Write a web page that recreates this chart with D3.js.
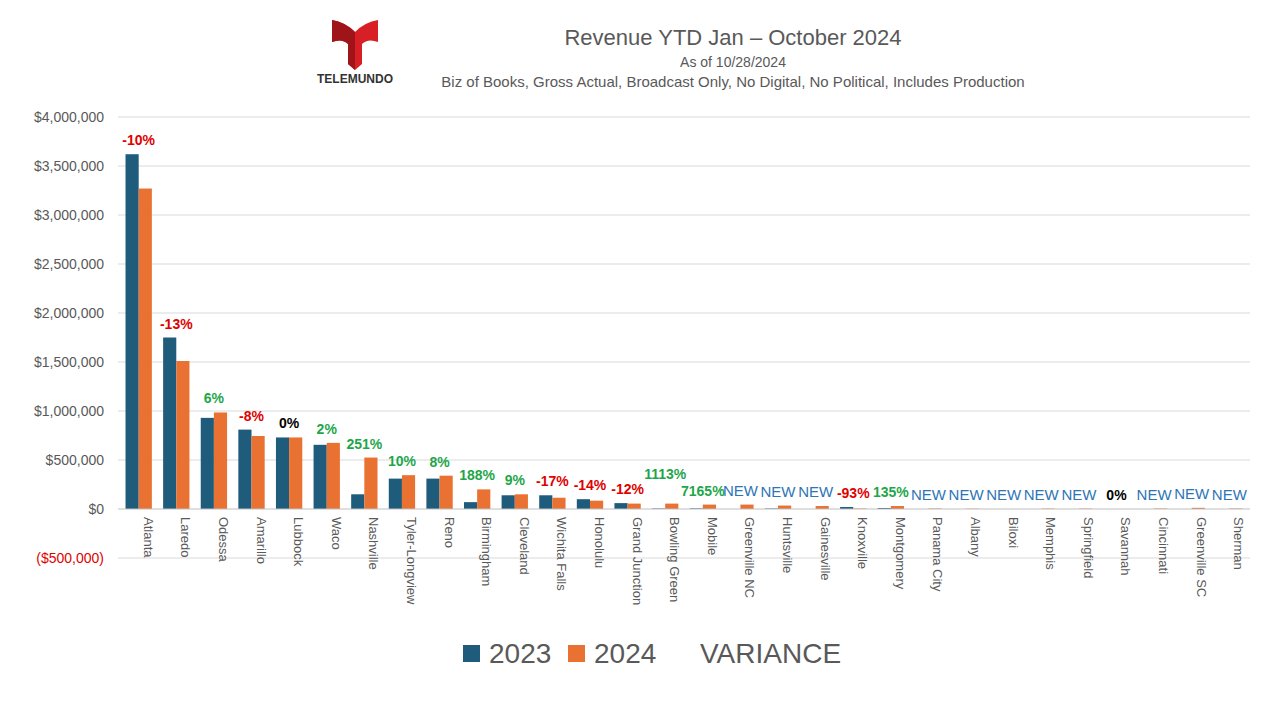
<!DOCTYPE html>
<html><head><meta charset="utf-8">
<script src="https://cdn.jsdelivr.net/npm/d3@7"></script>
<style>body{margin:0;background:#fff}text{font-family:"Liberation Sans",Arial,sans-serif}</style>
</head><body><svg id="c" width="1280" height="720"></svg>
<script>
const markets = ["Atlanta","Laredo","Odessa","Amarillo","Lubbock","Waco","Nashville","Tyler-Longview","Reno","Birmingham","Cleveland","Wichita Falls","Honolulu","Grand Junction","Bowling Green","Mobile","Greenville NC","Huntsville","Gainesville","Knoxville","Montgomery","Panama City","Albany","Biloxi","Memphis","Springfield","Savannah","Cincinnati","Greenville SC","Sherman"];
const rev2023 = [3620000,1750000,930000,810000,730000,655000,150000,310000,310000,70000,140000,140000,100000,60000,5000,6000,0,5000,0,20000,10000,0,0,0,0,0,0,0,0,0];
const rev2024 = [3270000,1510000,985000,745000,730000,675000,525000,345000,340000,200000,150000,115000,85000,55000,55000,45000,45000,35000,30000,5000,30000,5000,3000,0,4000,4000,0,5000,12000,5000];
const variance = ["-10%","-13%","6%","-8%","0%","2%","251%","10%","8%","188%","9%","-17%","-14%","-12%","1113%","7165%","NEW","NEW","NEW","-93%","135%","NEW","NEW","NEW","NEW","NEW","0%","NEW","NEW","NEW"];
const yTicks = [-500000,0,500000,1000000,1500000,2000000,2500000,3000000,3500000,4000000];

const svg = d3.select("#c");
const x = d3.scaleBand().domain(markets).range([118,1250]).paddingInner(0.3).paddingOuter(0.2);
const y = d3.scaleLinear().domain([-500000,4000000]).range([558,117]);
const fmt = d => d < 0 ? "($" + d3.format(",")(-d) + ")" : (d === 0 ? "$0" : "$" + d3.format(",")(d));

svg.append("g").selectAll("line").data(yTicks.filter(d => d !== 0)).join("line")
  .attr("x1",118).attr("x2",1250).attr("y1",d=>y(d)).attr("y2",d=>y(d)).attr("stroke","#d9d9d9");
svg.append("g").selectAll("text").data(yTicks).join("text")
  .attr("x",104).attr("y",d=>y(d)+5).attr("text-anchor","end").attr("font-size",14)
  .attr("fill",d=>d<0?"#e00000":"#595959").text(fmt);

const bw = x.bandwidth()/2;
svg.append("g").selectAll("rect").data(markets).join("rect")
  .attr("x",d=>x(d)).attr("width",bw).attr("y",(d,i)=>y(rev2023[i])).attr("height",(d,i)=>y(0)-y(rev2023[i])).attr("fill","#1f5b7a");
svg.append("g").selectAll("rect").data(markets).join("rect")
  .attr("x",d=>x(d)+bw).attr("width",bw).attr("y",(d,i)=>y(rev2024[i])).attr("height",(d,i)=>y(0)-y(rev2024[i])).attr("fill","#e97132");
svg.append("line").attr("x1",118).attr("x2",1250).attr("y1",y(0)).attr("y2",y(0)).attr("stroke","#bfbfbf");

// lift a long label when its neighbour is long too, so they do not collide
const lift = variance.map(() => 0);
variance.forEach((v,i) => { if (i>0 && v.length>=5 && variance[i-1].length>=5 && lift[i-1]===0 && lift[i]===0) lift[i-1]=16; });

const vcol = v => v==="NEW" ? "#2e75b6" : v==="0%" ? "#000" : v.startsWith("-") ? "#e00000" : "#1ea64a";
svg.append("g").selectAll("text").data(markets).join("text")
  .attr("x",d=>x(d)+x.bandwidth()/2).attr("y",(d,i)=>y(Math.max(rev2023[i],rev2024[i]))-9-lift[i])
  .attr("text-anchor","middle").attr("font-size",(d,i)=>variance[i]==="NEW"?15:14)
  .attr("font-weight",(d,i)=>variance[i]==="NEW"?400:700).attr("fill",(d,i)=>vcol(variance[i]))
  .text((d,i)=>variance[i]);

svg.append("g").selectAll("text").data(markets).join("text")
  .attr("transform",d=>`translate(${x(d)+x.bandwidth()/2+5},517) rotate(90)`)
  .attr("font-size",13).attr("fill","#595959").text(d=>d);

// titles
const t = svg.append("g").attr("text-anchor","middle");
t.append("text").attr("x",733).attr("y",45).attr("font-size",22).attr("fill","#595959").text("Revenue YTD Jan \u2013 October 2024");
t.append("text").attr("x",733).attr("y",67).attr("font-size",14).attr("fill","#595959").text("As of 10/28/2024");
t.append("text").attr("x",733).attr("y",87).attr("font-size",15).attr("fill","#595959").text("Biz of Books, Gross Actual, Broadcast Only, No Digital, No Political, Includes Production");

// logo
const lg = svg.append("g");
lg.append("path").attr("d","M332,20 Q345,22 355,32 Q365,22 378,20 L378,42 Q368,38 362,44 L362,64 L355,70 L348,64 L348,44 Q342,38 332,42 Z").attr("fill","#d91f26");
lg.append("path").attr("d","M332,20 Q345,22 355,32 L355,70 L348,64 L348,44 Q342,38 332,42 Z").attr("fill","#9e1418");
lg.append("text").attr("x",355).attr("y",83).attr("text-anchor","middle").attr("font-size",12).attr("font-weight",700).attr("fill","#333").text("TELEMUNDO");

// legend
const leg = [["2023","#1f5b7a",463],["2024","#e97132",568]];
leg.forEach(([l,c,lx])=>{
  svg.append("rect").attr("x",lx).attr("y",645).attr("width",17).attr("height",17).attr("fill",c);
  svg.append("text").attr("x",lx+26).attr("y",663).attr("font-size",28).attr("fill","#595959").text(l);
});
svg.append("text").attr("x",700).attr("y",663).attr("font-size",28).attr("fill","#595959").text("VARIANCE");
</script></body></html>
